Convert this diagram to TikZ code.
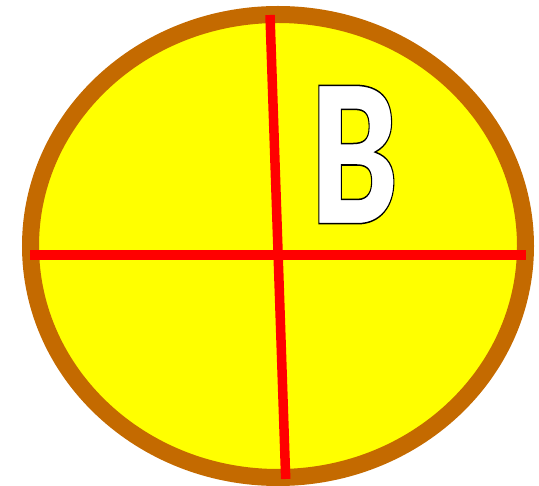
\documentclass[tikz,border=0pt]{standalone}
\usepackage{fontspec}
\IfFontExistsTF{Lato Black}
  {\newfontfamily\letterfont{Lato Black}}
  {\newfontfamily\letterfont{Liberation Sans Bold}}

\definecolor{rimbrown}{RGB}{196,106,0}
\definecolor{discyellow}{RGB}{255,255,0}

% outlined letter: white fill, black stroke
\newcommand{\outlined}[1]{{\color{white}\special{pdf:literal direct 2 Tr 1.5 w 0 G}#1\special{pdf:literal direct 0 Tr}}}

\begin{document}
\begin{tikzpicture}[x=1pt, y=-1pt,
  rim/.style={draw=rimbrown, line width=17pt, fill=discyellow},
  axis/.style={draw=red, line width=9.5pt},
  letterbox/.style={inner sep=0pt, font=\letterfont\fontsize{190}{190}\selectfont}]
  \useasboundingbox (0,0) rectangle (539,486);
  \draw[rim] (278,246) ellipse [x radius=247.5, y radius=231.5];
  \coordinate (west) at (30,255);
  \coordinate (east) at (526,255);
  \coordinate (north) at (270,15);
  \coordinate (south) at (285.7,479);
  \draw[axis] (west) -- (east);
  \draw[axis] (north) -- (south);
  \node[letterbox] (letter) at (354,154.5) {\scalebox{0.7}[1]{\outlined{B}}};
\end{tikzpicture}
\end{document}
